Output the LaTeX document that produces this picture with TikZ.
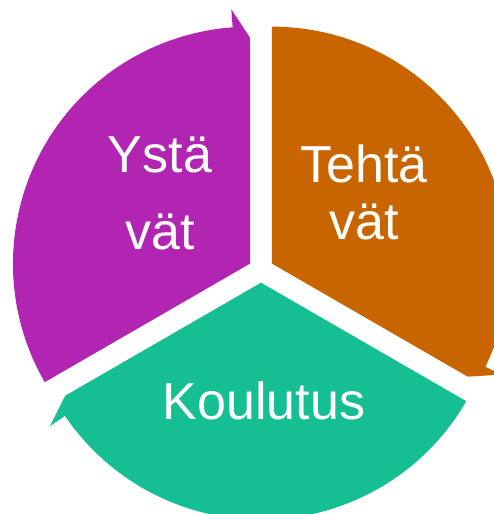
\documentclass[tikz,border=0pt]{standalone}
\usepackage{fontspec}
\setmainfont{Liberation Sans}
\usetikzlibrary{positioning}
\definecolor{ypurple}{RGB}{178,36,178}
\definecolor{torange}{RGB}{200,101,0}
\definecolor{kgreen}{RGB}{22,190,148}
\newlength{\rr}
\setlength{\rr}{237pt}
\tikzstyle{every picture}+=[line join=miter]
\tikzstyle{seg}=[draw=none]
\tikzstyle{lbl}=[text=white, align=center, inner sep=0pt]
\tikzstyle{lbl}+=[font=\fontsize{52}{62}\selectfont]

\begin{document}
\begin{tikzpicture}
\useasboundingbox (-261pt,-244pt) rectangle (233pt,270pt);

% segments, each one pushed out along its middle
\fill[seg, ypurple, shift={(150:12.7pt)}]
   (0,0) -- (210:\rr) arc[start angle=210, end angle=94.2, radius=\rr]
   -- (94.2:255pt) -- (90:226pt) -- cycle;
\fill[seg, torange, shift={(30:12.7pt)}]
   (0,0) -- (90:\rr) arc[start angle=90, end angle=-25.8, radius=\rr]
   -- (-25.8:255pt) -- (-30:226pt) -- cycle;
\fill[seg, kgreen, shift={(270:12.7pt)}]
   (0,0) -- (-30:\rr) arc[start angle=-30, end angle=-145.8, radius=\rr]
   -- (-145.8:255pt) -- (-150:226pt) -- cycle;

\node[lbl, font=\fontsize{52}{77}\selectfont] (ystavat) at (-101pt,76.5pt) {Ystä\\vät};
\node[lbl, font=\fontsize{52}{57}\selectfont] (tehtavat) at (103pt,78pt) {Tehtä\\vät};
\node[lbl] (koulutus) at (3pt,-131pt) {Koulutus};
\end{tikzpicture}
\end{document}
